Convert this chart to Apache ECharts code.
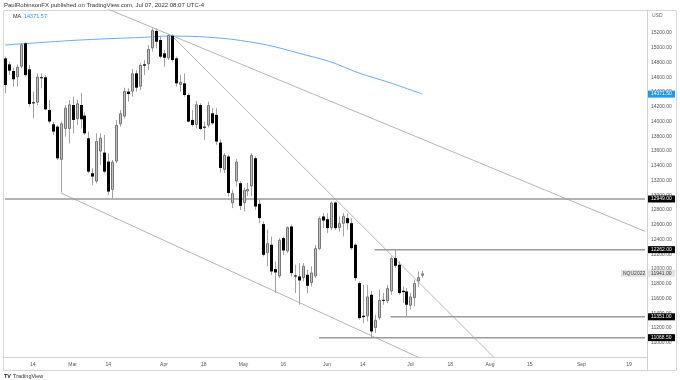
<!DOCTYPE html>
<html><head><meta charset="utf-8">
<script src="https://cdn.jsdelivr.net/npm/echarts@6/dist/echarts.min.js"></script>
<style>html,body{margin:0;padding:0;background:#fff}#c{width:680px;height:380px}</style>
</head><body><div id="c"></div>
<script>
const dates = ['2022-02-03','2022-02-04','2022-02-07','2022-02-08','2022-02-09','2022-02-10','2022-02-11','2022-02-14','2022-02-15','2022-02-16','2022-02-17','2022-02-18','2022-02-22','2022-02-23','2022-02-24','2022-02-25','2022-02-28',
'2022-03-01','2022-03-02','2022-03-03','2022-03-04','2022-03-07','2022-03-08','2022-03-09','2022-03-10','2022-03-11','2022-03-14','2022-03-15','2022-03-16','2022-03-17','2022-03-18','2022-03-21','2022-03-22','2022-03-23','2022-03-24','2022-03-25','2022-03-28','2022-03-29','2022-03-30','2022-03-31',
'2022-04-01','2022-04-04','2022-04-05','2022-04-06','2022-04-07','2022-04-08','2022-04-11','2022-04-12','2022-04-13','2022-04-14','2022-04-18','2022-04-19','2022-04-20','2022-04-21','2022-04-22','2022-04-25','2022-04-26','2022-04-27','2022-04-28','2022-04-29',
'2022-05-02','2022-05-03','2022-05-04','2022-05-05','2022-05-06','2022-05-09','2022-05-10','2022-05-11','2022-05-12','2022-05-13','2022-05-16','2022-05-17','2022-05-18','2022-05-19','2022-05-20','2022-05-23','2022-05-24','2022-05-25','2022-05-26','2022-05-27','2022-05-31',
'2022-06-01','2022-06-02','2022-06-03','2022-06-06','2022-06-07','2022-06-08','2022-06-09','2022-06-10','2022-06-13','2022-06-14','2022-06-15','2022-06-16','2022-06-17','2022-06-21','2022-06-22','2022-06-23','2022-06-24','2022-06-27','2022-06-28','2022-06-29','2022-06-30',
'2022-07-01','2022-07-05','2022-07-06','2022-07-07'];
const opens = [14856,14775,14685,14599,14743,15060,14707,14260,14255,14600,14599,14156,13962,13930,13479,13899,13899,
14224,14034,14224,14079,13772,13298,13185,13592,13578,13456,13072,13456,13962,14066,14405,14405,14653,14472,14775,14775,14992,15227,15105,
14924,14856,15163,14856,14495,14517,14360,14021,13953,14224,13930,13945,14111,14090,13714,13344,13525,12890,13186,13163,
12892,13050,13118,13502,12883,12608,12215,12328,11998,11898,12418,12237,12576,11912,11898,11876,11921,11808,11898,12269,12712,
12675,12554,12901,12554,12612,12689,12621,12328,11808,11365,11357,11650,11198,11334,11582,11560,11695,12147,12057,11704,11695,
11501,11605,11831,11908];
const closes = [14495,14689,14572,14743,15046,14630,14237,14246,14608,14590,14165,14000,13863,13501,13976,14188,14233,
14021,14246,14030,13840,13320,13253,13736,13781,13320,13050,13456,13953,14111,14414,14373,14653,14459,14766,14757,14983,15240,15082,14879,
14865,15172,14834,14518,14540,14360,13998,13953,14233,13899,13920,14224,13976,13728,13370,13547,13030,13030,13457,12856,
13073,13086,13547,12847,12689,12192,12350,11966,11953,12395,12251,12567,11944,11898,11844,12043,11772,11953,12282,12689,12657,
12554,12901,12554,12621,12721,12621,12282,11876,11334,11347,11627,11153,11311,11582,11568,11740,12147,12043,11673,11686,11515,
11627,11808,11890,11941];
const lows = [14382,14630,14472,14472,14721,14608,14201,14043,14224,14450,14156,13976,13817,13478,13040,13795,13704,
13840,13953,13908,13817,13298,13140,13160,13411,13298,13004,12959,13434,13930,14043,14269,14337,14405,14427,14630,14698,14947,14992,14856,
14743,14834,14811,14472,14405,14337,13990,13930,13908,13885,13750,13920,13953,13683,13308,13299,12983,12825,13118,12800,
12780,12990,12990,12802,12621,12170,12034,11920,11673,11876,12192,12215,11898,11673,11515,11831,11673,11763,11876,12260,12554,
12486,12531,12531,12508,12441,12531,12260,11840,11311,11266,11289,11068.5,11131,11311,11514,11537,11650,12012,11650,11537,11351,
11450,11492,11760,11880];
const highs = [14879,14811,14730,14775,15060,15073,14766,14405,14653,14653,14630,14292,13998,13953,13998,14224,14292,
14337,14292,14391,14125,13863,13366,13840,13840,13817,13569,13479,14021,14156,14459,14450,14712,14698,14789,14834,15037,15263,15263,15150,
14969,15181,15181,14879,14630,14653,14382,14156,14278,14246,13998,14269,14179,14180,13760,13570,13547,13073,13489,13190,
13100,13170,13570,13530,12940,12644,12531,12440,12102,12418,12440,12576,12600,12057,12079,12079,11989,12034,12328,12712,12757,
12757,12915,12915,12712,12757,12757,12690,12350,11830,11786,11786,11700,11379,11718,11673,11786,12170,12262,12102,11763,11740,
11673,11855,11966,11975];
const futureDates = ['2022-07-08','2022-07-11','2022-07-12','2022-07-13','2022-07-14','2022-07-15','2022-07-18','2022-07-19','2022-07-20','2022-07-21','2022-07-22',
'2022-07-25','2022-07-26','2022-07-27','2022-07-28','2022-07-29','2022-08-01','2022-08-02','2022-08-03','2022-08-04','2022-08-05',
'2022-08-08','2022-08-09','2022-08-10','2022-08-11','2022-08-12','2022-08-15','2022-08-16','2022-08-17','2022-08-18','2022-08-19',
'2022-08-22','2022-08-23','2022-08-24','2022-08-25','2022-08-26','2022-08-29','2022-08-30','2022-08-31','2022-09-01','2022-09-02',
'2022-09-05','2022-09-06','2022-09-07','2022-09-08','2022-09-09','2022-09-12','2022-09-13','2022-09-14','2022-09-15','2022-09-16',
'2022-09-19','2022-09-20','2022-09-21','2022-09-22','2022-09-23'];
const tickLabels = [['2022-02-14','14'],['2022-03-01','Mar'],['2022-03-14','14'],['2022-04-01','Apr'],['2022-04-18','18'],['2022-05-02','May'],['2022-05-16','16'],['2022-06-01','Jun'],['2022-06-14','14'],['2022-07-01','Jul'],['2022-07-18','18'],['2022-08-01','Aug'],['2022-08-15','15'],['2022-09-01','Sep'],['2022-09-19','19']];
const priceTicks = [11000,11200,11400,11600,11800,12000,12200,12400,12600,12800,13000,13200,13400,13600,13800,14000,14200,14400,14600,14800,15000,15200];
const maDates = ['2022-02-03','2022-02-28','2022-03-10','2022-03-25','2022-04-04','2022-04-14','2022-04-27','2022-05-10','2022-05-20','2022-06-02','2022-06-13','2022-06-24','2022-07-07'];
const maValues = [15037,15096,15118,15142,15159,15150,15115,15037,14925,14807,14658,14523,14371.57];
const hLevels = [['2022-02-03',12949],['2022-06-17',12262],['2022-06-24',11351],['2022-05-27',11068.5]];
const trendA = [['2022-02-28',15745],['2022-09-23',12510]];
const trendB = [['2022-04-05',15160],['2022-08-08',10585]];
const trendC = [['2022-02-24',13032],['2022-07-07',10777]];
const lastPrice = 11941;
const maLast = 14371.5;

const allDates = dates.concat(futureDates);
const lastCat = allDates[allDates.length - 1];
const tickMap = {};
tickLabels.forEach(t => { tickMap[t[0]] = t[1]; });
const candleData = dates.map((d, i) => [d, opens[i], closes[i], lows[i], highs[i]]);

const FONT = 'Liberation Sans, Arial, sans-serif';
const chart = echarts.init(document.getElementById('c'), null, {renderer: 'canvas'});

function renderCandle(params, api) {
  const x0 = api.value(0);
  const o = api.value(1), c = api.value(2), l = api.value(3), h = api.value(4);
  const pO = api.coord([x0, o]), pC = api.coord([x0, c]);
  const pL = api.coord([x0, l]), pH = api.coord([x0, h]);
  const x = Math.round(pO[0]);
  const top = Math.min(pO[1], pC[1]), bot = Math.max(pO[1], pC[1]);
  const up = c >= o;
  const body = up
    ? {type: 'rect', shape: {x: x - 0.5, y: top + 0.5, width: 2, height: Math.max(bot - top - 1, 0.5)}, style: {fill: '#c0c0c0', stroke: '#767676', lineWidth: 1}}
    : {type: 'rect', shape: {x: x - 1, y: top, width: 3, height: Math.max(bot - top, 1)}, style: {fill: '#000'}};
  return {type: 'group', children: [
    {type: 'line', shape: {x1: x + 0.5, y1: pH[1], x2: x + 0.5, y2: pL[1]}, style: {stroke: '#a3a3a3', lineWidth: 1}},
    body
  ]};
}

function lineSeries(data, color, width) {
  return {type: 'line', data: data, symbol: 'none', silent: true, animation: false, clip: true,
    lineStyle: {color: color, width: width}, z: 1};
}

const series = [];
series.push(lineSeries(trendA, '#b5b5b5', 1));
series.push(lineSeries(trendB, '#b5b5b5', 1));
series.push(lineSeries(trendC, '#b5b5b5', 1));
hLevels.forEach(h => series.push(lineSeries([[h[0], h[1]], [lastCat, h[1]]], '#9a9a9a', 1.5)));
series.push({type: 'line', data: maDates.map((d, i) => [d, maValues[i]]), symbol: 'none', smooth: 0.3, silent: true,
  animation: false, lineStyle: {color: '#64aef2', width: 1}, z: 2});
series.push({type: 'custom', data: candleData, renderItem: renderCandle, encode: {x: 0, y: [1, 2, 3, 4]}, z: 3, animation: false, silent: true});

chart.setOption({
  animation: false,
  backgroundColor: '#fff',
  grid: {left: 3, right: 33, top: 10, bottom: 23},
  xAxis: {
    type: 'category', data: allDates, boundaryGap: true,
    axisLine: {lineStyle: {color: '#d0d0d0'}},
    axisTick: {show: false},
    splitLine: {show: false},
    axisLabel: {
      interval: (idx, val) => tickMap[val] !== undefined,
      formatter: v => tickMap[v] || '',
      fontSize: 5, color: '#555', fontFamily: FONT, margin: 5
    }
  },
  yAxis: {
    type: 'value', position: 'right', min: 10806, max: 15512, scale: true,
    axisLine: {show: true, lineStyle: {color: '#d0d0d0'}},
    axisTick: {show: false},
    splitLine: {show: false},
    axisLabel: {customValues: priceTicks, formatter: v => Number(v).toFixed(2), fontSize: 5, color: '#555', fontFamily: FONT, margin: 4}
  },
  series: series
});

function yPix(v) { return chart.convertToPixel({yAxisIndex: 0}, v); }
const specials = [
  [maLast, '14371.50', '#2196f3', '#fff'],
  [12949, '12949.00', '#000', '#fff'],
  [12262, '12262.00', '#000', '#fff'],
  [lastPrice, '11941.00', '#e3e3e3', '#333'],
  [11351, '11351.00', '#000', '#fff'],
  [11068.5, '11068.50', '#000', '#fff']
];
const g = [];
g.push({type: 'rect', shape: {x: 3.5, y: 10.5, width: 673, height: 360}, style: {fill: 'none', stroke: '#d6d6d6', lineWidth: 1}, silent: true});
g.push({type: 'line', shape: {x1: 647.5, y1: 10, x2: 647.5, y2: 371}, style: {stroke: '#cfcfcf', lineWidth: 1}, silent: true});
specials.forEach(s => {
  const y = yPix(s[0]);
  g.push({type: 'rect', shape: {x: 648, y: y - 3.5, width: 27, height: 7}, style: {fill: s[2]}, z: 10});
  g.push({type: 'text', x: 651, y: y, style: {text: s[1], fill: s[3], fontSize: 5, fontFamily: FONT, verticalAlign: 'middle'}, z: 11});
});
const yl = yPix(lastPrice);
g.push({type: 'rect', shape: {x: 621, y: yl - 3.5, width: 25, height: 7}, style: {fill: '#e3e3e3'}, z: 10});
g.push({type: 'text', x: 623, y: yl, style: {text: 'NQU2022', fill: '#444', fontSize: 5, fontFamily: FONT, verticalAlign: 'middle'}, z: 11});
g.push({type: 'text', x: 652, y: 16, style: {text: 'USD', fill: '#666', fontSize: 5, fontFamily: FONT, verticalAlign: 'middle'}, z: 11});
g.push({type: 'text', x: 4, y: 5, style: {text: 'PaulRobinsonFX published on TradingView.com, Jul 07, 2022 08:07 UTC-4', fill: '#333', fontSize: 6, fontFamily: FONT, verticalAlign: 'middle'}});
g.push({type: 'text', x: 13, y: 16, style: {text: 'MA', fill: '#333', fontSize: 5.5, fontFamily: FONT, verticalAlign: 'middle'}});
g.push({type: 'text', x: 24, y: 16, style: {text: '14371.57', fill: '#2196f3', fontSize: 5.5, fontFamily: FONT, verticalAlign: 'middle'}});
g.push({type: 'text', x: 4, y: 376, style: {text: 'TV', fill: '#222', fontSize: 5.5, fontWeight: 'bold', fontFamily: FONT, verticalAlign: 'middle'}});
g.push({type: 'text', x: 13, y: 376, style: {text: 'TradingView', fill: '#333', fontSize: 5.5, fontFamily: FONT, verticalAlign: 'middle'}});
chart.setOption({graphic: g});
</script>
</body></html>
